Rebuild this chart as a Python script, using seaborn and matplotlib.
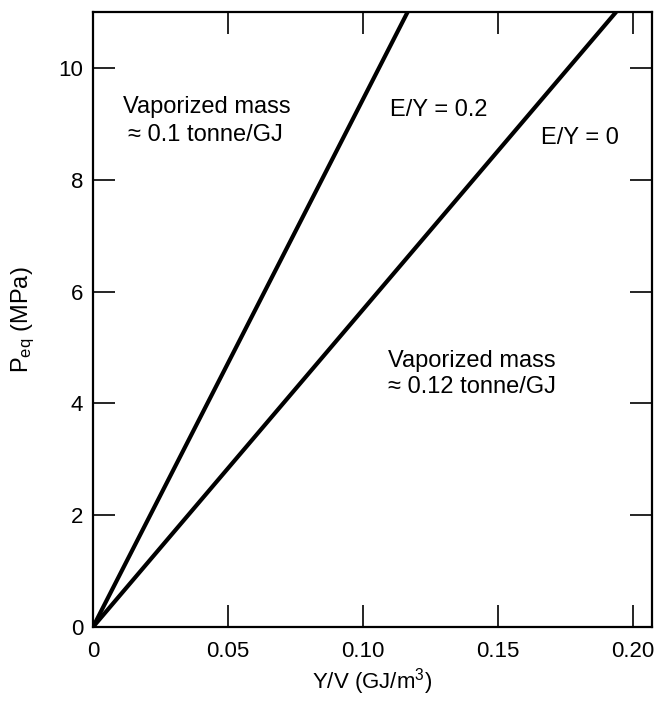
import matplotlib
matplotlib.use("Agg")
import matplotlib.pyplot as plt
import seaborn as sns
import pandas as pd

# Data
line_names = ["E/Y = 0.2", "E/Y = 0"]
steep_x = [0.0, 0.1165]
steep_y = [0.0, 11.0]
shallow_x = [0.0, 0.1937]
shallow_y = [0.0, 11.0]
x_ticks = [0, 0.05, 0.10, 0.15, 0.20]
x_tick_labels = ["0", "0.05", "0.10", "0.15", "0.20"]
y_ticks = [0, 2, 4, 6, 8, 10]
y_tick_labels = ["0", "2", "4", "6", "8", "10"]

df = pd.DataFrame({
    "x": steep_x + shallow_x,
    "y": steep_y + shallow_y,
    "line": [line_names[0]] * len(steep_x) + [line_names[1]] * len(shallow_x),
})

sns.set_style("ticks")
plt.rcParams["font.family"] = ["Liberation Sans", "DejaVu Sans"]
plt.rcParams["mathtext.fontset"] = "custom"
plt.rcParams["mathtext.rm"] = "Liberation Sans"
plt.rcParams["mathtext.it"] = "Liberation Sans:italic"
plt.rcParams["mathtext.default"] = "regular"
for k in ["text.color", "axes.labelcolor", "xtick.color", "ytick.color", "axes.edgecolor"]:
    plt.rcParams[k] = "black"

fig = plt.figure(figsize=(6.57, 7.01), dpi=100)
ax = fig.add_axes([0.1416, 0.1056, 0.8508, 0.8773])

sns.lineplot(data=df, x="x", y="y", hue="line", palette=["black", "black"],
             linewidth=3.0, legend=False, ax=ax, estimator=None, sort=False)

ax.set_xlim(0, 0.207)
ax.set_ylim(0, 11)
ax.set_xticks(x_ticks)
ax.set_xticklabels(x_tick_labels)
ax.set_yticks(y_ticks)
ax.set_yticklabels(y_tick_labels)

for s in ax.spines.values():
    s.set_visible(True)
    s.set_linewidth(1.6)
    s.set_color("black")

ax.tick_params(axis="both", which="major", direction="in", length=16, width=1.2,
               top=True, right=True, labelsize=16, color="black", labelcolor="black")
ax.tick_params(axis="x", pad=10)
ax.tick_params(axis="y", pad=7)

ax.set_xlabel("Y/V (GJ/m$^3$)", fontsize=16)
ax.set_ylabel("P$_{eq}$ (MPa)", fontsize=17)
ax.xaxis.set_label_coords(0.50, -0.064)
ax.yaxis.set_label_coords(-0.10, 0.5)

fs = 17
ax.text(0.0111, 9.196, "Vaporized mass", fontsize=fs, ha="left", va="baseline")
ax.text(0.0130, 8.696, "\u2248 0.1 tonne/GJ", fontsize=fs, ha="left", va="baseline")
ax.text(0.110, 9.143, "E/Y = 0.2", fontsize=fs, ha="left", va="baseline")
ax.text(0.1659, 8.643, "E/Y = 0", fontsize=fs, ha="left", va="baseline")
ax.text(0.1093, 4.643, "Vaporized mass", fontsize=fs, ha="left", va="baseline")
ax.text(0.1093, 4.179, "\u2248 0.12 tonne/GJ", fontsize=fs, ha="left", va="baseline")

fig.savefig("out.png", dpi=100)
